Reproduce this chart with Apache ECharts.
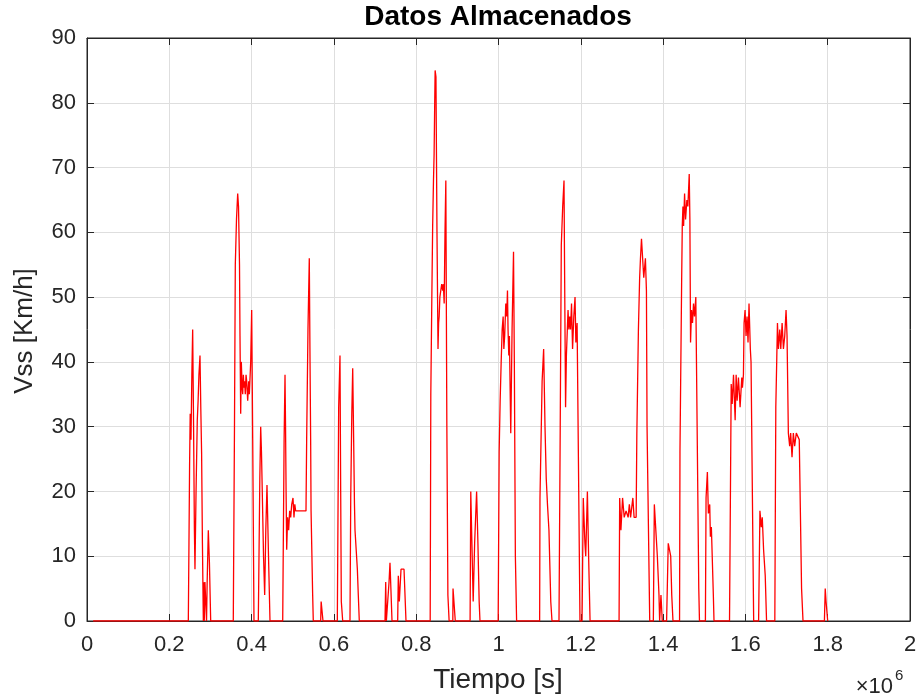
<!DOCTYPE html>
<html>
<head>
<meta charset="utf-8">
<title>Datos Almacenados</title>
<script src="https://cdn.jsdelivr.net/npm/echarts@6/dist/echarts.min.js"></script>
<style>
  html, body { margin: 0; padding: 0; background: #ffffff; }
  #chart { width: 921px; height: 700px; }
</style>
</head>
<body>
<div id="chart"></div>
<script>
// Logged vehicle speed (Vss, km/h) against time. Time values are in units of 10^6 s,
// as labelled on the x axis. Each trip is a list of [time, speed] samples.
const idleStart = [[0.015, 0], [0.2462, 0]];
const trip01 = [[0.2462,0],[0.2478,12],[0.2493,24],[0.2508,32],[0.2527,28],[0.2548,38],[0.2568,45],[0.2590,30],[0.2610,14],[0.2624,8],[0.2650,20],[0.2680,31],[0.2700,34],[0.2720,38],[0.2746,41],[0.2765,33],[0.2785,26],[0.2805,12],[0.2827,0],[0.2836,6],[0.2850,0],[0.2866,6],[0.2890,6],[0.2905,0],[0.2920,6],[0.2948,14],[0.2975,9],[0.3006,0]];
const trip02 = [[0.3555,0],[0.3584,30],[0.3604,55],[0.3633,62],[0.3662,66],[0.3682,64],[0.3706,55],[0.3718,44],[0.3735,32],[0.3750,40],[0.3770,36],[0.3784,35],[0.3800,38],[0.3815,36],[0.3830,37],[0.3847,35],[0.3865,38],[0.3881,37],[0.3905,34],[0.3930,37],[0.3945,35],[0.3961,35],[0.3978,40],[0.4002,48],[0.4027,28],[0.4058,0]];
const trip03 = [[0.4163,0],[0.4200,22],[0.4221,30],[0.4240,26],[0.4253,22],[0.4290,10],[0.4318,4],[0.4345,14],[0.4374,21],[0.4411,10],[0.4447,0]];
const trip04 = [[0.4756,0],[0.4790,28],[0.4812,38],[0.4825,30],[0.4838,20],[0.4853,11],[0.4875,16],[0.4900,14],[0.4925,17],[0.4950,16],[0.4975,18],[0.5006,19],[0.5030,16],[0.5050,18],[0.5070,17],[0.5322,17],[0.5338,28],[0.5370,45],[0.5402,56],[0.5420,40],[0.5435,28],[0.5445,17],[0.5484,4],[0.5499,0]];
const trip05 = [[0.5679,0],[0.5690,3],[0.5727,3],[0.5735,0]];
const trip06 = [[0.6083,0],[0.6116,33],[0.6148,41],[0.6165,20],[0.6180,3],[0.6214,0]];
const trip07 = [[0.6391,0],[0.6409,19],[0.6435,32],[0.6457,39],[0.6480,28],[0.6500,18],[0.6513,14],[0.6535,14],[0.6570,8],[0.6593,4],[0.6617,0]];
const trip08 = [[0.7242,0],[0.7259,6],[0.7275,0],[0.7310,0],[0.7340,6],[0.7363,9],[0.7385,5],[0.7412,0],[0.7550,0],[0.7565,7],[0.7590,3],[0.7631,8],[0.7704,8],[0.7752,0]];
const trip09 = [[0.8340,0],[0.8355,35],[0.8380,50],[0.8400,61],[0.8420,68],[0.8435,72],[0.8450,80],[0.8460,85],[0.8480,84],[0.8505,60],[0.8530,42],[0.8545,46],[0.8558,47],[0.8575,50],[0.8600,50],[0.8620,52],[0.8645,51],[0.8660,52],[0.8680,49],[0.8700,60],[0.8720,68],[0.8745,30],[0.8770,4],[0.8800,0]];
const trip10 = [[0.8890,0],[0.8895,5],[0.8920,5],[0.8950,0]];
const trip11 = [[0.9310,0],[0.9326,20],[0.9350,20],[0.9385,3],[0.9420,12],[0.9468,20],[0.9500,12],[0.9530,3],[0.9550,0]];
const trip12 = [[0.9992,0],[1.0016,26],[1.0040,34],[1.0065,40],[1.0089,45],[1.0113,47],[1.0130,42],[1.0150,44],[1.0177,49],[1.0200,47],[1.0218,51],[1.0232,45],[1.0250,41],[1.0265,44],[1.0298,29],[1.0330,45],[1.0365,57],[1.0385,40],[1.0410,10],[1.0440,0]];
const trip13 = [[1.1000,0],[1.1008,19],[1.1060,37],[1.1097,42],[1.1130,30],[1.1160,22],[1.1190,18],[1.1226,14],[1.1270,3],[1.1300,0]];
const trip14 = [[1.1470,0],[1.1500,30],[1.1526,58],[1.1560,64],[1.1592,68],[1.1605,55],[1.1630,33],[1.1650,41],[1.1690,48],[1.1710,45],[1.1730,47],[1.1750,45],[1.1775,49],[1.1800,42],[1.1830,47],[1.1860,50],[1.1880,43],[1.1910,46],[1.1935,46],[1.1980,0]];
const trip15 = [[1.2030,0],[1.2060,19],[1.2100,12],[1.2120,10],[1.2160,20],[1.2190,10],[1.2225,0]];
const trip16 = [[1.2930,0],[1.2945,19],[1.2975,14],[1.3015,19],[1.3055,16],[1.3100,17],[1.3150,16],[1.3180,18],[1.3210,16],[1.3265,19],[1.3295,16],[1.3345,16],[1.3362,29],[1.3400,45],[1.3430,53],[1.3450,56],[1.3475,59],[1.3505,55.7],[1.3530,53],[1.3570,56],[1.3595,51],[1.3610,30],[1.3675,0]];
const trip17 = [[1.3763,0],[1.3787,18],[1.3820,18],[1.3860,10],[1.3900,4],[1.3916,0],[1.3948,4],[1.3980,0]];
const trip18 = [[1.4085,0],[1.4125,12],[1.4160,12],[1.4185,10],[1.4210,4],[1.4240,0]];
const trip19 = [[1.4400,0],[1.4410,26],[1.4450,52],[1.4466,61],[1.4482,64],[1.4498,61],[1.4522,66],[1.4546,62],[1.4578,65],[1.4602,64],[1.4635,69],[1.4651,62],[1.4667,43],[1.4691,48],[1.4715,46],[1.4739,49],[1.4763,47],[1.4795,50],[1.4867,5],[1.4884,0]];
const trip20 = [[1.5028,0],[1.5044,19],[1.5076,23],[1.5100,16.6],[1.5133,18],[1.5149,13],[1.5173,14.5],[1.5221,4],[1.5237,0]];
const trip21 = [[1.5614,0],[1.5655,36.6],[1.5679,33.5],[1.5711,38],[1.5751,31],[1.5775,38],[1.5799,34],[1.5831,37.6],[1.5871,33],[1.5912,37.6],[1.5928,36],[1.5952,38],[1.5968,46],[1.5992,48],[1.6016,44],[1.6040,47],[1.6064,43],[1.6088,49],[1.6120,42],[1.6137,40],[1.6201,0]];
const trip22 = [[1.6321,0],[1.6353,17],[1.6386,14.5],[1.6410,16],[1.6442,11],[1.6482,7],[1.6514,0]];
const trip23 = [[1.6715,0],[1.6739,33],[1.6763,40.7],[1.6779,46],[1.6803,42],[1.6835,45],[1.6860,42],[1.6892,46],[1.6924,42],[1.6956,44],[1.6988,48],[1.7012,44],[1.7044,29],[1.7076,27],[1.7100,29],[1.7133,25.3],[1.7165,29],[1.7197,27],[1.7237,29],[1.7309,28],[1.7365,5],[1.7400,0]];
const trip24 = [[1.7920,0],[1.7940,5],[1.7960,3],[1.8000,0]];

const trips = [idleStart, trip01, trip02, trip03, trip04, trip05, trip06, trip07, trip08,
  trip09, trip10, trip11, trip12, trip13, trip14, trip15, trip16, trip17, trip18,
  trip19, trip20, trip21, trip22, trip23, trip24];

const xTicks = [0, 0.2, 0.4, 0.6, 0.8, 1, 1.2, 1.4, 1.6, 1.8, 2];
const yTicks = [0, 10, 20, 30, 40, 50, 60, 70, 80, 90];

// one continuous trace, idle (0 km/h) between trips
const speedTrace = [].concat(...trips);

const axisColor = '#262626';
const gridColor = '#dedede';
const fontFamily = '"Liberation Sans", Arial, Helvetica, sans-serif';

const chart = echarts.init(document.getElementById('chart'), null, { renderer: 'canvas' });

const tickLabel = v => String(parseFloat(v.toFixed(1)));

const boxAxis = {
  axisLine: { show: true, onZero: false, lineStyle: { color: axisColor, width: 1 } },
  axisTick: { show: true, inside: true, length: 7, lineStyle: { color: axisColor, width: 1 } },
  axisLabel: { show: false },
  splitLine: { show: false }
};

chart.setOption({
  animation: false,
  backgroundColor: '#ffffff',
  grid: {
    left: 87, right: 11, top: 38, bottom: 79, containLabel: false,
    show: true, borderColor: axisColor, borderWidth: 1, backgroundColor: 'transparent'
  },
  xAxis: [
    {
      type: 'value', position: 'bottom',
      min: xTicks[0], max: xTicks[xTicks.length - 1], interval: 0.2,
      axisLine: { show: true, onZero: false, lineStyle: { color: axisColor, width: 1 } },
      axisTick: { show: true, inside: true, length: 7, lineStyle: { color: axisColor } },
      axisLabel: { color: axisColor, fontSize: 22, fontFamily, margin: 13, formatter: tickLabel },
      splitLine: { show: true, lineStyle: { color: gridColor, width: 1 } }
    },
    Object.assign({ type: 'value', position: 'top', min: 0, max: 2, interval: 0.2 }, boxAxis)
  ],
  yAxis: [
    {
      type: 'value', position: 'left',
      min: yTicks[0], max: yTicks[yTicks.length - 1], interval: 10,
      axisLine: { show: true, onZero: false, lineStyle: { color: axisColor, width: 1 } },
      axisTick: { show: true, inside: true, length: 7, lineStyle: { color: axisColor } },
      axisLabel: { color: axisColor, fontSize: 22, fontFamily, margin: 11 },
      splitLine: { show: true, lineStyle: { color: gridColor, width: 1 } }
    },
    Object.assign({ type: 'value', position: 'right', min: 0, max: 90, interval: 10 }, boxAxis)
  ],
  series: [
    {
      name: 'Vss',
      type: 'line',
      data: speedTrace,
      showSymbol: false,
      symbol: 'none',
      sampling: null,
      clip: true,
      lineStyle: { color: '#ff0000', width: 1.3 },
      z: 3
    }
  ],
  graphic: [
    {
      type: 'text', x: 498, y: 17,
      style: { text: 'Datos Almacenados', fill: '#000000', font: 'bold 28px ' + fontFamily, align: 'center', verticalAlign: 'middle' }
    },
    {
      type: 'text', x: 498, y: 680,
      style: { text: 'Tiempo [s]', fill: axisColor, font: '28px ' + fontFamily, align: 'center', verticalAlign: 'middle' }
    },
    {
      type: 'text', x: 25, y: 331, rotation: Math.PI / 2,
      style: { text: 'Vss [Km/h]', fill: axisColor, font: '26px ' + fontFamily, align: 'center', verticalAlign: 'middle' }
    },
    {
      type: 'text', x: 893, y: 687,
      style: { text: '×10', fill: axisColor, font: '22px ' + fontFamily, align: 'right', verticalAlign: 'middle' }
    },
    {
      type: 'text', x: 895, y: 676,
      style: { text: '6', fill: axisColor, font: '15px ' + fontFamily, align: 'left', verticalAlign: 'middle' }
    }
  ]
});
</script>
</body>
</html>
